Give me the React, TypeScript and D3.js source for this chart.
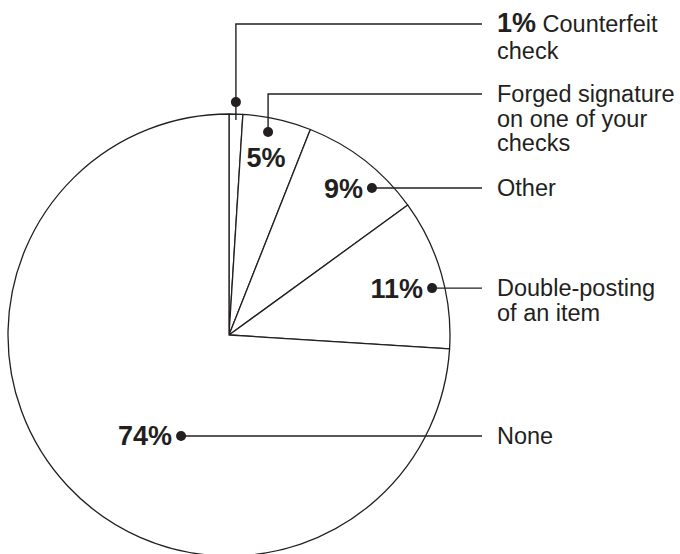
import * as d3 from "d3"

// slice values, clockwise from 12 o'clock
const shares = [1, 5, 9, 11, 74]
const pctLabels = ["1%", "5%", "9%", "11%", "74%"]
const categories = [
  ["Counterfeit", "check"],
  ["Forged signature", "on one of your", "checks"],
  ["Other"],
  ["Double-posting", "of an item"],
  ["None"],
]

// callout layout: dot position in polar coords (deg, px), elbow height of leader line
const callouts = [
  { angle: 1.7, radius: 233, lineY: 24, pct: "inline", tail: 18 },
  { angle: 10.9, radius: 206.7, lineY: 94, pct: "below", tail: 0 },
  { angle: 44.2, radius: 205, lineY: null, pct: "left", tail: 0 },
  { angle: 77, radius: 208.4, lineY: null, pct: "left", tail: 0 },
  { angle: 205.4, radius: 111.8, lineY: null, pct: "left", tail: 0 },
]

const W = 680
const H = 554
const cx = 229
const cy = 335
const R = 221
const lineEndX = 482
const textX = 497
const ink = "#231f20"
const font = "'Liberation Sans', Arial, Helvetica, sans-serif"

export default function App() {
  const pie = d3.pie<number>().sort(null).value((d) => d)
  const arcs = pie(shares)
  const arc = d3.arc<d3.PieArcDatum<number>>().innerRadius(0).outerRadius(R)

  return (
    <svg
      width={W}
      height={H}
      style={{ position: "absolute", left: 0, top: 0, background: "#fff" }}
      fontFamily={font}
    >
      <g transform={`translate(${cx},${cy})`}>
        {arcs.map((a, i) => (
          <path key={i} d={arc(a) || ""} fill="#fff" stroke={ink} strokeWidth={1.3} strokeLinejoin="round" />
        ))}
      </g>

      {callouts.map((c, i) => {
        const [px, py] = d3.pointRadial((c.angle * Math.PI) / 180, c.radius)
        const dx = cx + px
        const dy = cy + py
        const ly = c.lineY ?? dy
        const lines = categories[i]
        const base = ly + 8
        const lh = c.pct === "inline" ? 27 : 24.5
        return (
          <g key={i}>
            {c.lineY !== null ? (
              <path
                d={`M${dx},${dy + c.tail}V${ly}H${lineEndX}`}
                fill="none"
                stroke={ink}
                strokeWidth={1.4}
              />
            ) : (
              <line x1={dx} y1={dy} x2={lineEndX} y2={dy} stroke={ink} strokeWidth={1.4} />
            )}
            <circle cx={dx} cy={dy} r={5} fill={ink} />

            {c.pct === "below" && (
              <text x={dx - 2} y={dy + 35} textAnchor="middle" fontSize={27} fontWeight="bold" fill={ink}>
                {pctLabels[i]}
              </text>
            )}
            {c.pct === "left" && (
              <text x={dx - 9} y={dy + 9.5} textAnchor="end" fontSize={27} fontWeight="bold" fill={ink}>
                {pctLabels[i]}
              </text>
            )}

            <text x={textX} y={base} fontSize={23.5} fill={ink}>
              {lines.map((t, j) => (
                <tspan key={j} x={textX} y={base + j * lh}>
                  {c.pct === "inline" && j === 0 ? (
                    <>
                      <tspan fontWeight="bold" fontSize={27}>
                        {pctLabels[i]}
                      </tspan>
                      {" " + t}
                    </>
                  ) : (
                    t
                  )}
                </tspan>
              ))}
            </text>
          </g>
        )
      })}
    </svg>
  )
}
